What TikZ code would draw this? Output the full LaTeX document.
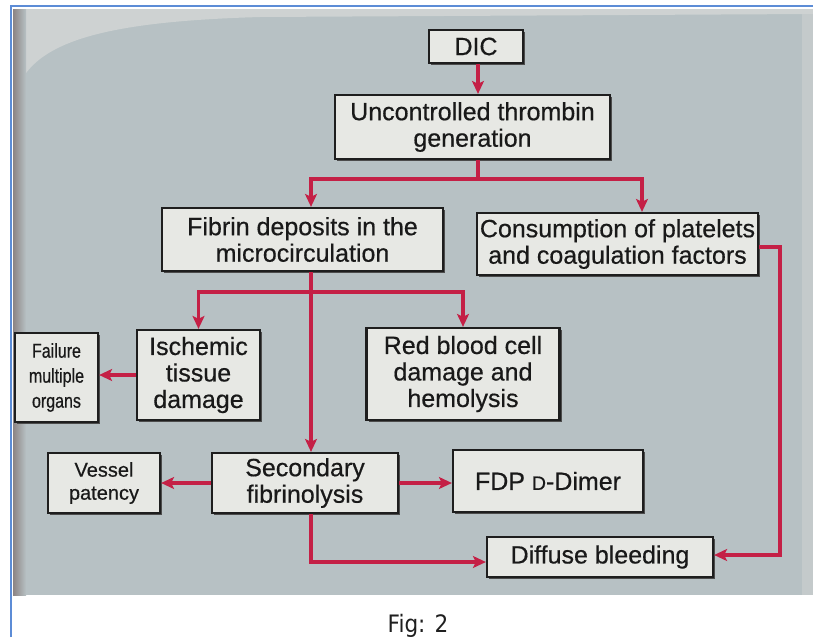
\documentclass[tikz,border=0pt]{standalone}
\usepackage{fontspec}
\setmainfont{Liberation Sans}[FakeBold=0.5]
\newfontfamily\narrowsans{Liberation Sans}[FakeStretch=0.8,FakeBold=0.5]
\newfontfamily\figfont{DejaVu Sans}[FakeStretch=0.9]
\usetikzlibrary{arrows.meta,shadows}
\definecolor{bgpaper}{RGB}{183,193,196}
\definecolor{bglight}{RGB}{206,210,210}
\definecolor{bgdark}{RGB}{140,132,132}
\definecolor{bgright}{RGB}{196,202,203}
\definecolor{boxfill}{RGB}{231,232,228}
\definecolor{boxline}{RGB}{30,30,30}
\definecolor{redline}{RGB}{196,32,70}
\definecolor{blueframe}{RGB}{92,140,214}
\tikzset{
  box/.style={draw=boxline, line width=2.2pt, fill=boxfill, align=center,
    inner sep=0pt, text=black!90, font=\fontsize{25}{26.5}\selectfont,
    drop shadow={shadow xshift=2.2pt, shadow yshift=-2.2pt, fill=black!70, opacity=1}},
  conn/.style={draw=redline, line width=3.2pt},
  arr/.style={conn, -{Stealth[length=13pt,width=12pt,inset=3pt]}},
}
\begin{document}
\begin{tikzpicture}[x=1pt,y=-1pt]
\useasboundingbox (0,0) rectangle (813,637);
% background
\fill[white] (0,0) rectangle (813,637);
\fill[bgpaper] (13,9) rectangle (813,595);
\fill[bglight] (13,9) -- (13,105) .. controls (22,45) and (90,22) .. (260,17) -- (813,14) -- (813,9) -- cycle;
\fill[bgright] (802,14) rectangle (813,595);
\shade[left color=bgdark, right color=bgpaper] (13,9) rectangle (26,595);
\draw[blueframe, line width=2.5pt] (11,637) -- (11,6) -- (813,6);

% column coordinates
\coordinate (j1) at (478,179);
\coordinate (c1) at (311,0);
\coordinate (c2) at (642,0);
\coordinate (j2) at (311,292);
\coordinate (b1) at (311,562);
\coordinate (r1) at (780,247);
\coordinate (r2) at (780,555);

% boxes
\node[box, minimum width=94pt, minimum height=33pt] (dic) at (476,46.5) {DIC};
\node[box, minimum width=275pt, minimum height=64pt] (unc) at (472.5,127) {Uncontrolled thrombin\\generation};
\node[box, minimum width=281pt, minimum height=63pt] (fib) at (302.5,239.5) {Fibrin deposits in the\\microcirculation};
\node[box, minimum width=281pt, minimum height=62pt] (con) at (617.5,244) {Consumption of platelets\\and coagulation factors};
\node[box, minimum width=123pt, minimum height=90pt] (isc) at (198.5,375) {Ischemic\\tissue\\damage};
\node[box, minimum width=193pt, minimum height=92pt] (rbc) at (463,374) {Red blood cell\\damage and\\hemolysis};
\node[box, font=\narrowsans\fontsize{20}{25}\selectfont, minimum width=83pt, minimum height=89pt] (fail) at (56.5,377.5) {Failure\\multiple\\organs};
\node[box, font=\fontsize{20}{23}\selectfont, minimum width=112pt, minimum height=60pt] (ves) at (104,483) {Vessel\\patency};
\node[box, minimum width=186pt, minimum height=60pt] (sec) at (305,483) {Secondary\\fibrinolysis};
\node[box, minimum width=190pt, minimum height=62pt] (fdp) at (548,481) {FDP {\fontsize{19.5}{20}\selectfont D}-Dimer};
\node[box, minimum width=226pt, minimum height=40pt] (dif) at (600,557) {Diffuse bleeding};

% connectors
\draw[arr] (dic.south -| j1) -- (unc.north -| j1);
\draw[conn] (unc.south -| j1) -- (j1);
\draw[arr] (j1) -| (fib.north -| c1);
\draw[arr] (j1) -| (con.north -| c2);
\draw[arr] (fib.south -| c1) -- (sec.north -| c1);
\draw[arr] (j2) -| (isc.north);
\draw[arr] (j2) -| (rbc.north);
\draw[arr] (isc.west) -- (isc.west -| fail.east);
\draw[arr] (sec.west) -- (sec.west -| ves.east);
\draw[arr] (sec.east) -- (sec.east -| fdp.west);
\draw[arr] (sec.south -| c1) -- (b1) -- (b1 -| dif.west);
\draw[arr] (con.east |- r1) -- (r1) -- (r2) -- (r2 -| dif.east);

% caption
\node[font=\figfont\fontsize{24}{26}\selectfont, text=black!88, anchor=base] (fig) at (418,632) {Fig: 2};
\end{tikzpicture}
\end{document}
